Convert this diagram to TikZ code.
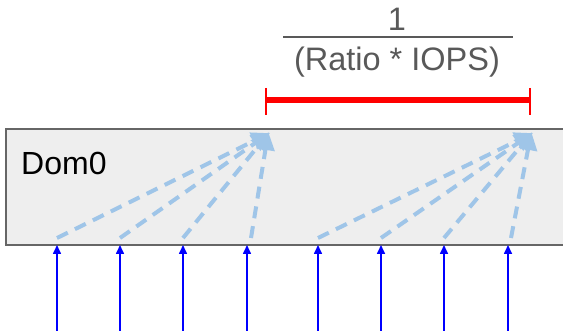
\documentclass[tikz,border=0pt]{standalone}
\usepackage{fontspec}
\setmainfont{Liberation Sans}
\usetikzlibrary{arrows.meta}
\definecolor{boxfill}{HTML}{EEEEEE}
\definecolor{boxline}{HTML}{666666}
\definecolor{dashblue}{HTML}{9FC5E8}
\definecolor{fracgrey}{HTML}{595959}
\tikzset{
  inarrow/.style={draw=blue, line width=1.6pt, -{Triangle[length=9pt,width=8pt]}},
  fanline/.style={draw=dashblue, line width=4pt, dash pattern=on 12pt off 8pt, -{Triangle[length=18pt,width=18pt]}, shorten >=-2pt},
  fractext/.style={text=fracgrey, font=\fontsize{32.5}{36}\selectfont, inner sep=0pt},
}
\begin{document}
\begin{tikzpicture}[x=1pt,y=-1pt]
\useasboundingbox (0,0) rectangle (563,331);
\clip (0,0) rectangle (563,331);
% Dom0 box
\node[draw=boxline, fill=boxfill, line width=2pt, minimum width=580pt, minimum height=116pt, anchor=north west, inner sep=0pt] (dom0) at (5,128) {};
\node[anchor=west, font=\fontsize{32}{36}\selectfont, inner sep=0pt] (lbl) at (21,163) {Dom0};
% fraction
\node[fractext] (num) at (397,19) {1};
\node[fractext] (den) at (397,62) {(Ratio * IOPS)};
\coordinate (fl) at (283,37);
\coordinate (fr) at (513,37);
\draw[fracgrey, line width=1.5pt] (fl) -- (fr);
% red bar
\coordinate (rl) at (266,100);
\coordinate (rr) at (530,100);
\coordinate (rlt) at (266,88);
\coordinate (rlb) at (266,115);
\coordinate (rrt) at (530,88);
\coordinate (rrb) at (530,115);
\draw[red, line width=6.5pt] (rl) -- (rr);
\draw[red, line width=1.5pt] (rlt) -- (rlb);
\draw[red, line width=1.5pt] (rrt) -- (rrb);
% targets
\coordinate (tA) at (268,134);
\coordinate (tB) at (531,134);
% input arrows and fan lines
\foreach \x/\sx/\t [count=\i] in {57/57/tA,120/120/tA,183/183/tA,247/251/tA,318/318/tB,381/381/tB,444/444/tB,508/511/tB}{
  \coordinate (b\i) at (\x,335);
  \coordinate (e\i) at (\x,245);
  \coordinate (s\i) at (\sx,238);
  \draw[inarrow] (b\i) -- (e\i);
  \draw[fanline] (s\i) -- (\t);
}
\end{tikzpicture}
\end{document}
